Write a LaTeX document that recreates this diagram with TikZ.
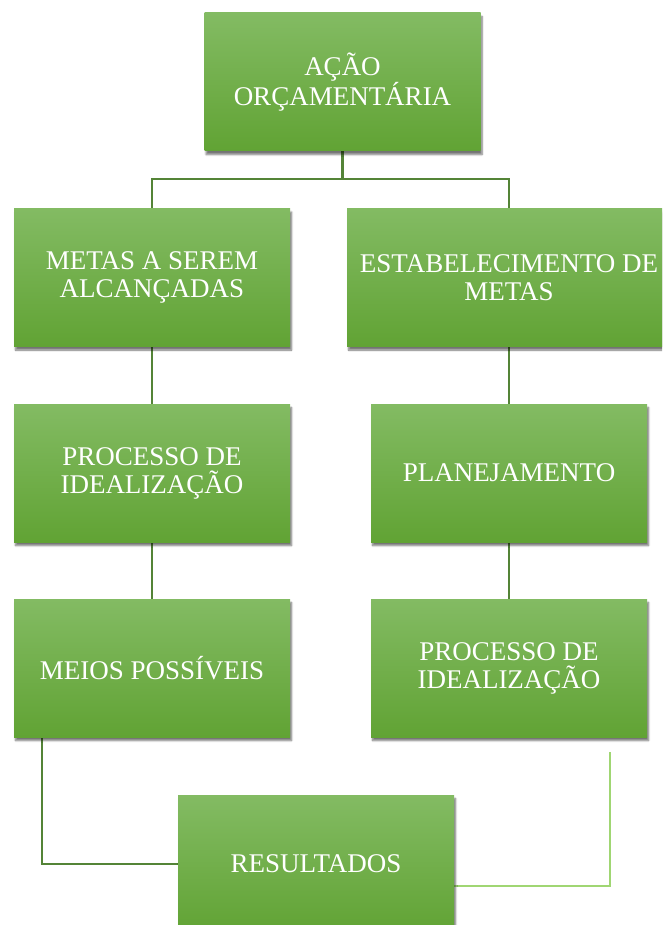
\documentclass[tikz,border=0pt]{standalone}
\usepackage{fontspec}
\setmainfont{Liberation Serif}
\usetikzlibrary{shadows.blur,calc,backgrounds}
\definecolor{boxtop}{RGB}{131,187,99}
\definecolor{boxbot}{RGB}{97,163,52}
\definecolor{linedark}{RGB}{84,132,55}
\definecolor{linelight}{RGB}{160,214,115}
\tikzset{
  box/.style={rectangle, minimum width=276pt, minimum height=138pt, inner sep=0pt,
    text=white, align=center, font=\fontsize{27}{28}\selectfont,
    top color=boxtop, bottom color=boxbot,
    blur shadow={shadow xshift=1.5pt, shadow yshift=-3.5pt, shadow blur steps=6, shadow opacity=55}},
  conn/.style={draw=linedark, line width=2.3pt},
  connlight/.style={draw=linelight, line width=1.8pt}
}
\begin{document}
\begin{tikzpicture}[x=1pt,y=-1pt]
\useasboundingbox (0,0) rectangle (662,925);
\clip (0,0) rectangle (662,925);
\node[box] (top) at (342.5,82) {AÇÃO\\ORÇAMENTÁRIA};
\node[box] (l2) at (152,277.5) {METAS A SEREM\\ALCANÇADAS};
\node[box, minimum width=324pt] (r2) at (509,277.5) {ESTABELECIMENTO DE\\METAS};
\node[box] (l3) at (152,473) {PROCESSO DE\\IDEALIZAÇÃO};
\node[box] (r3) at (509,473) {PLANEJAMENTO};
\node[box] (l4) at (152,668) {MEIOS POSSÍVEIS};
\node[box] (r4) at (509,668) {PROCESSO DE\\IDEALIZAÇÃO};
\node[box] (res) at (316,864) {RESULTADOS};
\coordinate (bus) at (0,179);
\coordinate (lb) at (42,737);
\coordinate (rfree) at (610,752);
\begin{scope}[on background layer]
\draw[conn] (top.south) -- (top.south |- bus) -| (l2.north);
\draw[conn] (top.south |- bus) -| (r2.north);
\draw[conn] (l2.south) -- (l3.north);
\draw[conn] (l3.south) -- (l4.north);
\draw[conn] (r2.south) -- (r3.north);
\draw[conn] (r3.south) -- (r4.north);
\draw[conn] (l4.south -| lb) |- (res.west);
\draw[connlight] (rfree) |- ($(res.east)+(0,22)$);
\end{scope}
\end{tikzpicture}
\end{document}
